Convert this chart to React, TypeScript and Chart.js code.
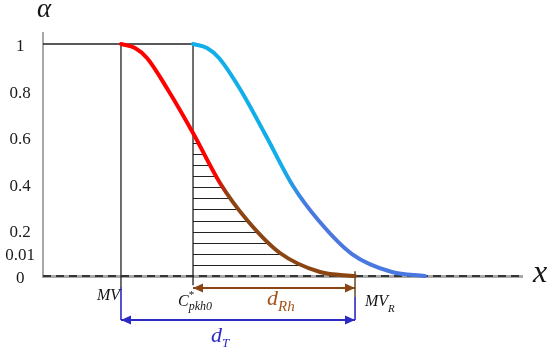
import React, { useEffect, useRef } from 'react';
import { Chart, registerables } from 'chart.js';

Chart.register(...registerables);

// ---- data (x in arbitrary units 0..100, alpha 0..1) ----
const redX = [16.28, 19.21, 21.71, 26.1, 31.32, 36.95, 42.59, 49.48, 57.83, 65.14];
const redY = [1.0, 0.9828, 0.9397, 0.8017, 0.6164, 0.4009, 0.2414, 0.0991, 0.0172, 0.0];
const blueX = [31.32, 34.24, 36.74, 41.13, 46.35, 52.19, 57.62, 64.51, 72.86, 79.75];
const blueY = [1.0, 0.9828, 0.9397, 0.806, 0.6121, 0.3879, 0.2371, 0.0948, 0.0172, 0.0];
const hatchLevels = [0.047, 0.095, 0.142, 0.19, 0.237, 0.289, 0.336, 0.384, 0.431, 0.478, 0.526, 0.573];

const MV = 16.28;
const C_STAR = 31.32;
const MV_R = 65.14;
const X_MIN = 0;
const X_MAX = 100;
const DASH_END = 99.6;
const Y_MAX = 1.0474;
const MV_LINE_BOTTOM = -0.047;
const C_LINE_BOTTOM = -0.04;
const D_RH_LEVEL = -0.052;
const D_T_LEVEL = -0.19;
const MVR_TOP = 0.02;
const MVR_SPLIT = -0.09;

const yTickValues = [0, 0.1, 0.2, 0.4, 0.6, 0.8, 1];
const yTickLabels = ['0', '0.01', '0.2', '0.4', '0.6', '0.8', '1'];

// ---- helpers ----
const pts = (xs: number[], ys: number[]) => xs.map((x, i) => ({ x, y: ys[i] }));

const SERIF = '"Liberation Serif", "Times New Roman", serif';
const BROWN = '#8a4513';
const DT_BLUE = '#2b2bc4';

const line = (data: any[], color: any, width: number, extra: any = {}) => ({
  data,
  borderColor: color,
  backgroundColor: color,
  borderWidth: width,
  pointRadius: 0,
  pointHoverRadius: 0,
  fill: false,
  clip: false,
  ...extra,
});

// hatch lines: from the C* line to the red curve as the chart actually draws it
const hatchPlugin = {
  id: 'hatch',
  beforeDatasetsDraw(chart: any) {
    const { ctx } = chart;
    const xs = chart.scales.x;
    const ys = chart.scales.y;
    const meta = chart.getDatasetMeta(0);
    const els = meta.data;
    if (!els || els.length < 2) return;
    const samples: { x: number; y: number }[] = [];
    for (let i = 0; i < els.length - 1; i++) {
      const a = els[i];
      const b = els[i + 1];
      const c1x = a.cp2x ?? a.x, c1y = a.cp2y ?? a.y;
      const c2x = b.cp1x ?? b.x, c2y = b.cp1y ?? b.y;
      for (let k = 0; k <= 40; k++) {
        const t = k / 40, u = 1 - t;
        samples.push({
          x: u * u * u * a.x + 3 * u * u * t * c1x + 3 * u * t * t * c2x + t * t * t * b.x,
          y: u * u * u * a.y + 3 * u * u * t * c1y + 3 * u * t * t * c2y + t * t * t * b.y,
        });
      }
    }
    const x0 = xs.getPixelForValue(C_STAR);
    ctx.save();
    ctx.strokeStyle = '#222222';
    ctx.lineWidth = 1;
    hatchLevels.forEach((lv) => {
      const py = ys.getPixelForValue(lv);
      let xr = x0;
      for (let i = 0; i < samples.length - 1; i++) {
        const s0 = samples[i], s1 = samples[i + 1];
        if ((s0.y - py) * (s1.y - py) <= 0 && s1.y !== s0.y) {
          xr = s0.x + ((py - s0.y) / (s1.y - s0.y)) * (s1.x - s0.x);
          break;
        }
      }
      const yy = Math.round(py) + 0.5;
      ctx.beginPath();
      ctx.moveTo(x0, yy);
      ctx.lineTo(xr, yy);
      ctx.stroke();
    });
    ctx.restore();
  },
};

const arrowPlugin = {
  id: 'arrowHeads',
  afterDatasetsDraw(chart: any) {
    const { ctx } = chart;
    chart.data.datasets.forEach((ds: any, i: number) => {
      if (!ds.arrow) return;
      const meta = chart.getDatasetMeta(i);
      const p0 = meta.data[0];
      const p1 = meta.data[meta.data.length - 1];
      if (!p0 || !p1) return;
      const head = (tip: any, from: any) => {
        const ang = Math.atan2(tip.y - from.y, tip.x - from.x);
        const len = 10;
        const hw = 4.5;
        const bx = tip.x - len * Math.cos(ang);
        const by = tip.y - len * Math.sin(ang);
        ctx.beginPath();
        ctx.moveTo(tip.x, tip.y);
        ctx.lineTo(bx + hw * Math.sin(ang), by - hw * Math.cos(ang));
        ctx.lineTo(bx - hw * Math.sin(ang), by + hw * Math.cos(ang));
        ctx.closePath();
        ctx.fillStyle = ds.borderColor;
        ctx.fill();
      };
      ctx.save();
      head(p0, p1);
      head(p1, p0);
      ctx.restore();
    });
  },
};

const textPlugin = {
  id: 'annotText',
  afterDatasetsDraw(chart: any) {
    const { ctx, chartArea } = chart;
    const xs = chart.scales.x;
    const ys = chart.scales.y;
    const base = ys.getPixelForValue(0);
    ctx.save();
    ctx.textBaseline = 'alphabetic';
    const put = (txt: string, x: number, y: number, size: number, color: string, align: any = 'left', italic = true) => {
      ctx.font = `${italic ? 'italic ' : ''}${size}px ${SERIF}`;
      ctx.fillStyle = color;
      ctx.textAlign = align;
      ctx.fillText(txt, x, y);
      return ctx.measureText(txt).width;
    };
    const ink = '#151515';
    put('α', chartArea.left + 1, chartArea.top - 16, 27, ink, 'center');
    put('x', chartArea.right + 11, base + 6, 32, ink);
    put('MV', xs.getPixelForValue(MV) - 1, base + 24, 16, ink, 'right');

    const cx = xs.getPixelForValue(C_STAR) - 15;
    const cw = put('C', cx, base + 30, 16, ink);
    put('*', cx + cw, base + 22, 11, ink, 'left', false);
    put('pkh0', cx + cw, base + 34, 12, ink);

    const dx = xs.getPixelForValue(C_STAR) + 74;
    const dw = put('d', dx, base + 29, 22, '#a3541c');
    put('Rh', dx + dw, base + 35, 15, '#a3541c');

    const mx = xs.getPixelForValue(MV_R) + 10;
    const mw = put('MV', mx, base + 30, 16, ink);
    put('R', mx + mw, base + 36, 11, ink);

    const tx = xs.getPixelForValue(MV) + 90;
    const tw = put('d', tx, base + 66, 22, DT_BLUE);
    put('T', tx + tw, base + 71, 13, DT_BLUE);
    ctx.restore();
  },
};

export default function App() {
  const ref = useRef<HTMLCanvasElement | null>(null);

  useEffect(() => {
    if (!ref.current) return;

    const redColor = (c: any) => {
      const chart = c.chart;
      const xs = chart.scales && chart.scales.x;
      if (!xs || !chart.chartArea) return '#ff0000';
      const g = chart.ctx.createLinearGradient(xs.getPixelForValue(36.2), 0, xs.getPixelForValue(38.6), 0);
      g.addColorStop(0, '#ff0000');
      g.addColorStop(1, BROWN);
      return g;
    };
    const blueColor = (c: any) => {
      const chart = c.chart;
      const xs = chart.scales && chart.scales.x;
      if (!xs || !chart.chartArea) return '#12aeea';
      const g = chart.ctx.createLinearGradient(xs.getPixelForValue(50), 0, xs.getPixelForValue(55), 0);
      g.addColorStop(0, '#12aeea');
      g.addColorStop(1, '#4a78e0');
      return g;
    };

    const datasets: any[] = [
      line(pts(redX, redY), redColor, 4, { cubicInterpolationMode: 'monotone', borderCapStyle: 'round' }),
      line(pts(blueX, blueY), blueColor, 4, { cubicInterpolationMode: 'monotone', borderCapStyle: 'round' }),
      line([{ x: X_MIN, y: 1 }, { x: C_STAR, y: 1 }], '#222222', 1.3),
      line([{ x: MV, y: 1 }, { x: MV, y: MV_LINE_BOTTOM }], '#222222', 1.3),
      line([{ x: C_STAR, y: 1 }, { x: C_STAR, y: C_LINE_BOTTOM }], '#222222', 1.3),
      line([{ x: X_MIN, y: 0 }, { x: DASH_END, y: 0 }], '#111111', 1.3, { borderDash: [8, 5] }),
      line([{ x: C_STAR, y: D_RH_LEVEL }, { x: MV_R, y: D_RH_LEVEL }], BROWN, 2, { arrow: true }),
      line([{ x: MV, y: D_T_LEVEL }, { x: MV_R, y: D_T_LEVEL }], DT_BLUE, 2, { arrow: true }),
      line([{ x: MV, y: MV_LINE_BOTTOM }, { x: MV, y: D_T_LEVEL }], DT_BLUE, 1.6),
      line([{ x: MV_R, y: MVR_SPLIT }, { x: MV_R, y: D_T_LEVEL }], DT_BLUE, 1.6),
      line([{ x: MV_R, y: MVR_TOP }, { x: MV_R, y: MVR_SPLIT }], '#5a3a10', 1.4),
    ];

    const chart = new Chart(ref.current, {
      type: 'line',
      data: { datasets },
      plugins: [hatchPlugin, arrowPlugin, textPlugin],
      options: {
        responsive: false,
        animation: false,
        devicePixelRatio: 1,
        events: [],
        layout: { padding: { top: 33, right: 28, left: 0, bottom: 0 } },
        plugins: { legend: { display: false }, tooltip: { enabled: false }, title: { display: false } },
        scales: {
          x: {
            type: 'linear',
            min: X_MIN,
            max: X_MAX,
            grid: { display: false, drawTicks: false },
            ticks: { display: false },
            border: { display: true, color: '#a8a8a8', width: 3 },
            afterFit: (s: any) => { s.height = 77; },
          },
          y: {
            type: 'linear',
            min: 0,
            max: Y_MAX,
            grid: { display: false, drawTicks: false },
            border: { display: true, color: '#a8a8a8', width: 2 },
            afterBuildTicks: (s: any) => { s.ticks = yTickValues.map((v) => ({ value: v })); },
            ticks: {
              autoSkip: false,
              padding: 8,
              crossAlign: 'center',
              labelOffset: 3,
              color: '#1a1a1a',
              font: { family: SERIF, size: 17 },
              callback: (_v: any, i: number) => yTickLabels[i],
            },
            afterFit: (s: any) => { s.width = 43; },
          },
        },
      } as any,
    });
    return () => chart.destroy();
  }, []);

  return (
    <div style={{ position: 'fixed', left: 0, top: 0, width: 550, height: 353, background: '#ffffff' }}>
      <canvas ref={ref} width={550} height={353} style={{ display: 'block' }} />
    </div>
  );
}
